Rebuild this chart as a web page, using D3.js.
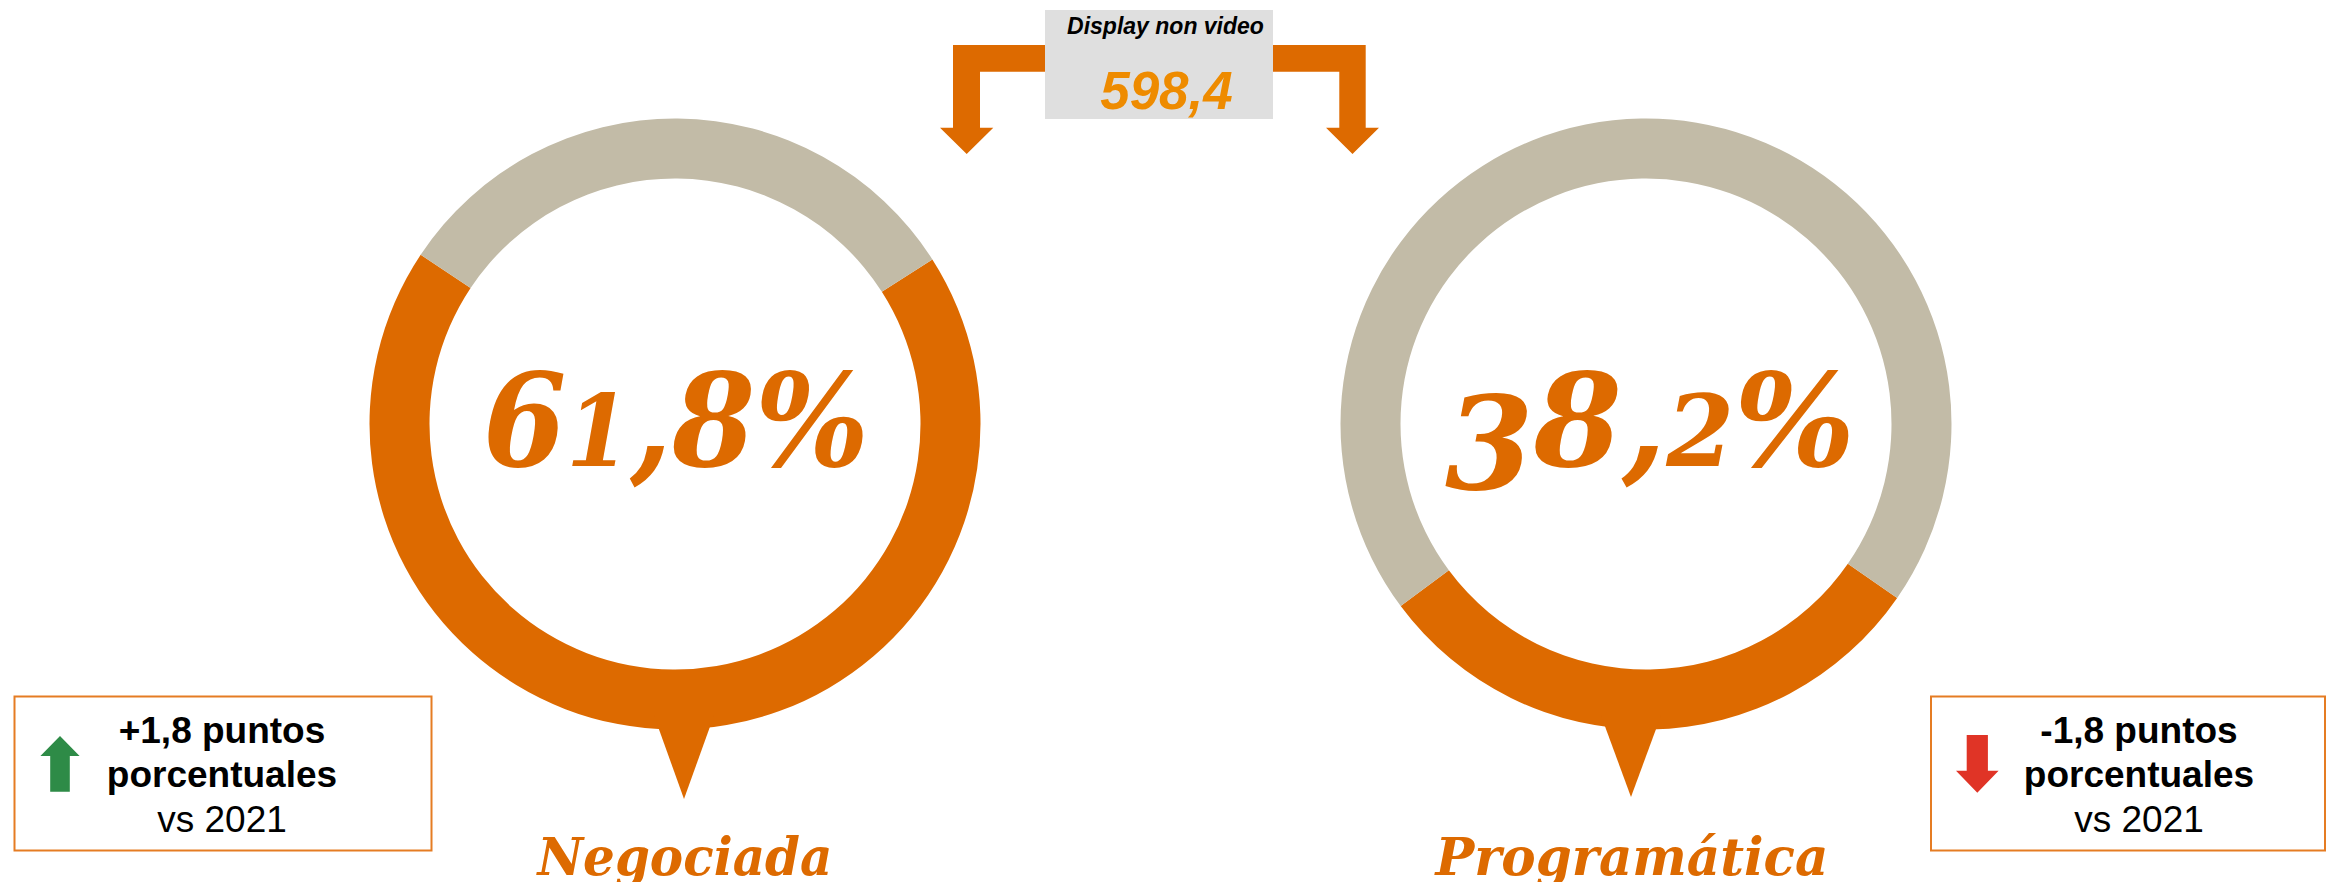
<!DOCTYPE html>
<html><head><meta charset="utf-8">
<script src="https://cdn.jsdelivr.net/npm/d3@7"></script>
<style>html,body{margin:0;padding:0;background:#fff;overflow:hidden}</style>
</head><body>
<svg id="c" width="2328" height="882" xmlns="http://www.w3.org/2000/svg"></svg>
<script>
// ---------- data ----------
const categories = ["Negociada", "Programática"];
const shareValues = [61.8, 38.2];
const shareLabels = ["61,8%", "38,2%"];
// portion of each ring painted orange
const ringOrangeShare = [68.4, 30.2];
const changeValues = [1.8, -1.8];
const changeLines = [["+1,8 puntos", "porcentuales", "vs 2021"], ["-1,8 puntos", "porcentuales", "vs 2021"]];
const totalLabel = "Display non video";
const totalValue = "598,4";

// ---------- style / layout ----------
const ORANGE = "#DD6A00", GRAY = "#C2BBA7", BOXLINE = "#E57C23";
const svg = d3.select("#c");
const x = d3.scalePoint().domain(categories).range([675, 1646]);
const cy = 424;
const arc = d3.arc().innerRadius(245.5).outerRadius(305.5);
const ringStart = [57.4, 124.7];     // degrees, where the orange run begins
const tailDx = [9, -15];
const tailTip = [799, 797];
const labelW = [297, 395];
const numberCx = [676, 1650];
const numberW = [386, 410];

function fit(sel, cx, targetW) {
  const bb = sel.node().getBBox();
  const k = targetW / bb.width;
  const bcx = bb.x + bb.width / 2;
  sel.attr("transform", `translate(${cx},0) scale(${k},1) translate(${-bcx},0)`);
}

// ---------- top total box + elbow arrows ----------
const topG = svg.append("g");
topG.append("path").attr("fill", ORANGE).attr("d",
  d3.line()([[1050,45],[953,45],[953,127.7],[940,127.7],[966.7,154],[993.3,127.7],[980,127.7],[980,71.7],[1050,71.7]]) + "Z");
topG.append("path").attr("fill", ORANGE).attr("d",
  d3.line()([[1268,45],[1365.7,45],[1365.7,127.7],[1379,127.7],[1352.5,154],[1326,127.7],[1339.3,127.7],[1339.3,71.7],[1268,71.7]]) + "Z");
topG.append("rect").attr("x", 1045).attr("y", 10).attr("width", 228).attr("height", 109).attr("fill", "#DFDFDF");
topG.append("text").attr("x", 1165.5).attr("y", 33.5).attr("text-anchor", "middle")
  .attr("font-family", "'Liberation Sans', Arial, sans-serif").attr("font-weight", "bold").attr("font-style", "italic")
  .attr("font-size", 23).attr("fill", "#000").text(totalLabel);
topG.append("text").attr("x", 1166.5).attr("y", 109).attr("text-anchor", "middle")
  .attr("font-family", "'Liberation Sans', Arial, sans-serif").attr("font-weight", "bold").attr("font-style", "italic")
  .attr("font-size", 53).attr("fill", "#EE8B00").text(totalValue);

// ---------- donuts ----------
categories.forEach((c, i) => {
  const cx = x(c);
  const g = svg.append("g").attr("transform", `translate(${cx},${cy})`);
  const a0 = ringStart[i] * Math.PI / 180;
  const pie = d3.pie().sort(null).startAngle(a0).endAngle(a0 + 2 * Math.PI);
  g.selectAll("path.seg").data(pie([ringOrangeShare[i], 100 - ringOrangeShare[i]])).join("path")
    .attr("class", "seg").attr("d", arc).attr("fill", (d, j) => j === 0 ? ORANGE : GRAY);
  // tail
  const tx = tailDx[i];
  const R = 305.5;
  g.append("path").attr("fill", ORANGE).attr("d",
    d3.line()([[tx - 30, R - 14], [tx + 30, R - 14], [tx, tailTip[i] - cy]]) + "Z");

  // big percentage with old-style figure emulation
  const t = svg.append("text").attr("y", 466)
    .attr("font-family", "'DejaVu Serif', serif").attr("font-weight", "bold").attr("font-style", "italic")
    .attr("font-size", 129).attr("fill", ORANGE);
  let prev = 0;
  for (const ch of shareLabels[i]) {
    let size = 129, shift = 0;
    if ("12".includes(ch)) size = 99;
    if ("3579".includes(ch)) shift = 23;
    t.append("tspan").attr("font-size", size).attr("dy", shift - prev).text(ch);
    prev = shift;
  }
  fit(t, numberCx[i], numberW[i]);

  // category label
  const lab = svg.append("text").attr("y", 875)
    .attr("font-family", "'DejaVu Serif', serif").attr("font-weight", "bold").attr("font-style", "italic")
    .attr("font-size", 53).attr("fill", ORANGE).text(c);
  fit(lab, cx + tx, labelW[i]);
});

// ---------- change boxes ----------
const boxes = [
  { x: 14.5, w: 417, tx: 222, ax: 60 },
  { x: 1931, w: 394, tx: 2139, ax: 1977.3 }
];
changeValues.forEach((v, i) => {
  const b = boxes[i];
  svg.append("rect").attr("x", b.x).attr("y", 696.5).attr("width", b.w).attr("height", 154)
    .attr("fill", "none").attr("stroke", BOXLINE).attr("stroke-width", 2);
  const up = v > 0;
  const pts = up
    ? [[b.ax, 736], [b.ax + 19.6, 756], [b.ax + 9.8, 756], [b.ax + 9.8, 791.7], [b.ax - 9.8, 791.7], [b.ax - 9.8, 756], [b.ax - 19.6, 756]]
    : [[b.ax - 10.6, 735], [b.ax + 10.6, 735], [b.ax + 10.6, 770.7], [b.ax + 21.3, 770.7], [b.ax, 792.7], [b.ax - 21.3, 770.7], [b.ax - 10.6, 770.7]];
  svg.append("path").attr("d", d3.line()(pts) + "Z").attr("fill", up ? "#2E8B47" : "#E03426");
  const base = [743, 787, 832];
  changeLines[i].forEach((ln, j) => {
    svg.append("text").attr("x", b.tx).attr("y", base[j]).attr("text-anchor", "middle")
      .attr("font-family", "'Liberation Sans', Arial, sans-serif").attr("font-weight", j < 2 ? "bold" : "normal")
      .attr("font-size", 37).attr("fill", "#000").text(ln);
  });
});
</script>
</body></html>
